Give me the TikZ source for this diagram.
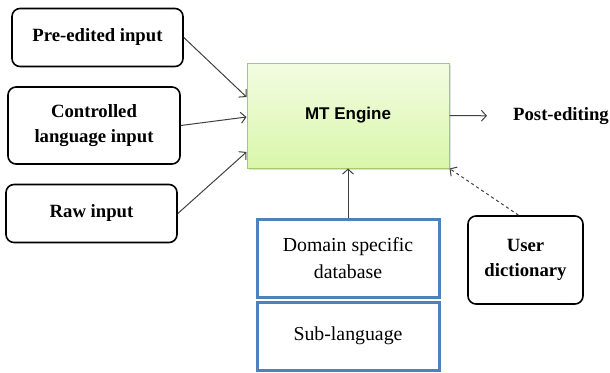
\documentclass[tikz,border=0pt]{standalone}
\usepackage{fontspec}
\setmainfont{Liberation Serif}
\newfontfamily\enginefont{Liberation Sans}
\usetikzlibrary{positioning,shadows,arrows.meta}

\begin{document}
\begin{tikzpicture}[x=1pt, y=-1pt, >={Straight Barb[length=5pt,width=11pt]},
    inbox/.style={draw, line width=1.6pt, rounded corners=8pt, align=center, inner sep=0pt, font=\bfseries\fontsize{18.7}{25}\selectfont},
    dbbox/.style={draw=dbblue, line width=3pt, align=center, inner sep=0pt, minimum width=182pt, font=\fontsize{19.8}{27}\selectfont},
    link/.style={->, draw=linkgray, line width=1pt}]
      \definecolor{dbblue}{HTML}{4F81BD}
      \definecolor{linkgray}{HTML}{404040}
      \definecolor{enginetop}{HTML}{F3FCE2}
      \definecolor{enginebottom}{HTML}{D9F7AA}
      \definecolor{engineline}{HTML}{A6C86E}
      \useasboundingbox (0,0) rectangle (610,372);
      % Inputs
      \node[inbox, minimum width=171pt, minimum height=58pt] (pre) at (97.5,37.5) {Pre-edited input};
      \node[inbox, minimum width=172pt, minimum height=77pt] (ctrl) at (94,125.5) {Controlled\\language input};
      \node[inbox, minimum width=171pt, minimum height=58pt] (raw) at (91.5,213.5) {Raw input};
      % Engine
      \node[draw=engineline, line width=1pt, top color=enginetop, bottom color=enginebottom,
        drop shadow={opacity=0.25, shadow xshift=1.5pt, shadow yshift=-2pt},
        minimum width=202pt, minimum height=105pt, font=\enginefont\bfseries\fontsize{17}{20}\selectfont] (mt) at (348,115.5) {MT Engine};
      \node[anchor=west, inner sep=0pt, font=\bfseries\fontsize{18.7}{22}\selectfont] (post) at (513,116) {Post-editing};
      % Resources
      \node[dbbox, minimum height=78pt] (db) at (348,258.5) {Domain specific\\database};
      \node[dbbox, minimum height=67.5pt] (sub) at (348,336.25) {Sub-language};
      \node[inbox, minimum width=115pt, minimum height=88pt] (user) at (525.5,260) {User\\dictionary};
      % Arrows
      \draw[link] (pre.east) -- ([yshift=18.5pt]mt.west);
      \draw[link] (ctrl.east) -- ([yshift=-1.5pt]mt.west);
      \draw[link] (raw.east) -- ([yshift=-36.5pt]mt.west);
      \draw[link, shorten >=26pt] (mt.east) -- (post.west);
      \draw[link] (db.north) -- (mt.south);
      \draw[link, dashed] ([xshift=-7pt]user.north) -- (mt.south east);
\end{tikzpicture}
\end{document}
